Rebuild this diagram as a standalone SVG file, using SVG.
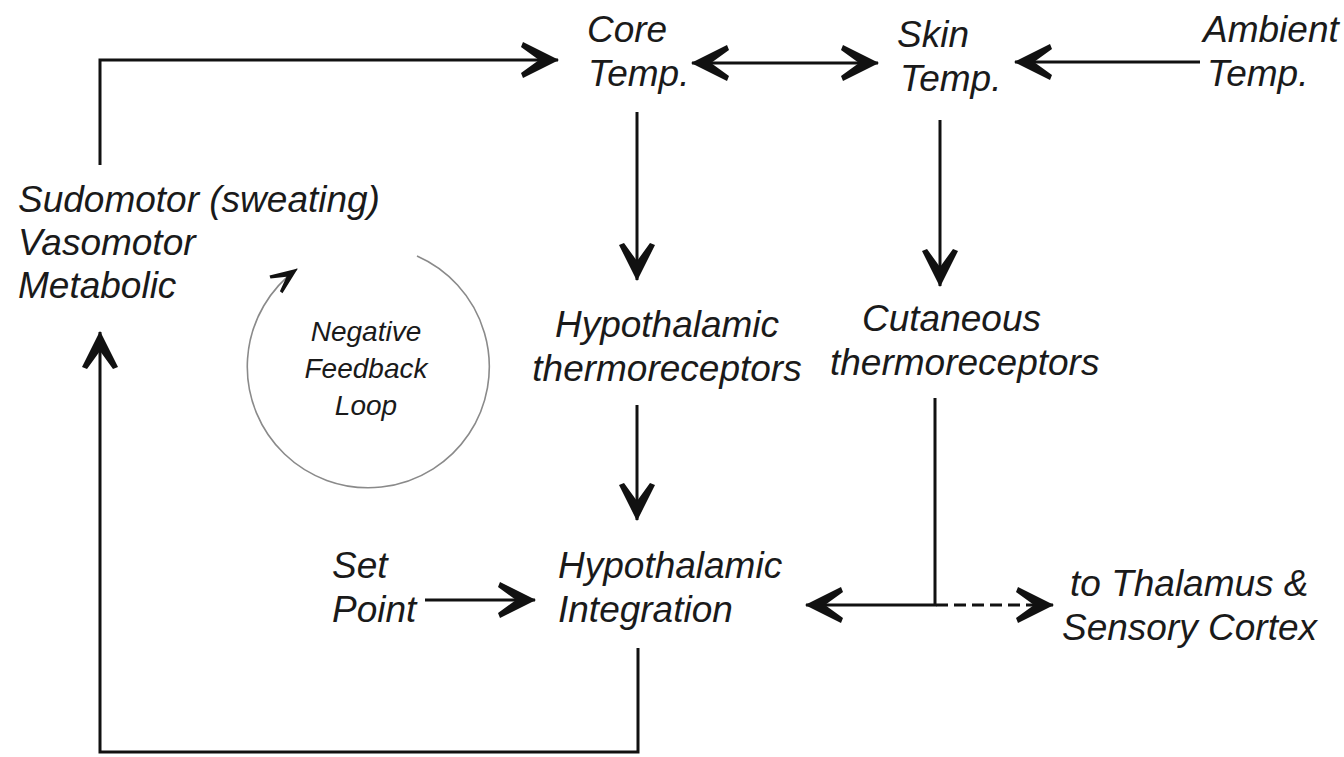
<svg xmlns="http://www.w3.org/2000/svg" width="1344" height="757" viewBox="0 0 1344 757">
<defs>
<style>
.t{font-family:"Liberation Sans",Arial,sans-serif;font-style:italic;font-size:37px;fill:#1a1a1a}
.s{font-family:"Liberation Sans",Arial,sans-serif;font-style:italic;font-size:28px;fill:#1a1a1a}
.ln{fill:none;stroke:#111;stroke-width:3}
.dash{fill:none;stroke:#111;stroke-width:3;stroke-dasharray:12,6}
</style>
<marker id="ah" viewBox="-40 -20 42 40" refX="0" refY="0" markerWidth="42" markerHeight="40" markerUnits="userSpaceOnUse" orient="auto-start-reverse">
<path d="M1,0 L-35,-18 L-37,-13 L-19,0 L-37,13 L-35,18 Z" fill="#111"/>
</marker>
<marker id="sh" viewBox="-30 -14 32 28" refX="0" refY="0" markerWidth="32" markerHeight="28" markerUnits="userSpaceOnUse" orient="auto">
<path d="M1,0 L-26,-11 L-27,-8 L-13,0 L-27,8 L-26,11 Z" fill="#111"/>
</marker>
</defs>
<g id="connectors">
<path class="ln" d="M100,165 V60 H558" marker-end="url(#ah)"/>
<path class="ln" d="M692,63 H878" marker-start="url(#ah)" marker-end="url(#ah)"/>
<path class="ln" d="M1200,62 H1015" marker-end="url(#ah)"/>
<path class="ln" d="M637,112 V280" marker-end="url(#ah)"/>
<path class="ln" d="M940,120 V286" marker-end="url(#ah)"/>
<path class="ln" d="M637,405 V520" marker-end="url(#ah)"/>
<path class="ln" d="M935,398 V605 H806" marker-end="url(#ah)"/>
<path class="dash" d="M936,605 H1053" marker-end="url(#ah)"/>
<path class="ln" d="M425,600 H535" marker-end="url(#ah)"/>
<path class="ln" d="M638,648 V752 H100 V332" marker-end="url(#ah)"/>
<path d="M417,256 A121,121 0 1 1 297,269" fill="none" stroke="#8a8a8a" stroke-width="1.6" marker-end="url(#sh)"/>
</g>
<g id="core"><text class="t" x="587" y="42">Core</text><text class="t" x="588" y="86">Temp.</text></g>
<g id="skin"><text class="t" x="897" y="47">Skin</text><text class="t" x="900" y="91">Temp.</text></g>
<g id="ambient"><text class="t" x="1203" y="42">Ambient</text><text class="t" x="1207" y="86">Temp.</text></g>
<g id="effectors"><text class="t" x="18" y="212">Sudomotor (sweating)</text><text class="t" x="18" y="255">Vasomotor</text><text class="t" x="18" y="298">Metabolic</text></g>
<g id="loop"><text class="s" x="366" y="341" text-anchor="middle">Negative</text><text class="s" x="366" y="378" text-anchor="middle">Feedback</text><text class="s" x="366" y="415" text-anchor="middle">Loop</text></g>
<g id="hypothermo"><text class="t" x="667" y="337" text-anchor="middle">Hypothalamic</text><text class="t" x="667" y="381" text-anchor="middle">thermoreceptors</text></g>
<g id="cutaneous"><text class="t" x="862" y="331">Cutaneous</text><text class="t" x="830" y="375">thermoreceptors</text></g>
<g id="setpoint"><text class="t" x="332" y="578">Set</text><text class="t" x="332" y="622">Point</text></g>
<g id="integration"><text class="t" x="558" y="578">Hypothalamic</text><text class="t" x="558" y="622">Integration</text></g>
<g id="thalamus"><text class="t" x="1070" y="596">to Thalamus &amp;</text><text class="t" x="1062" y="640">Sensory Cortex</text></g>
</svg>
